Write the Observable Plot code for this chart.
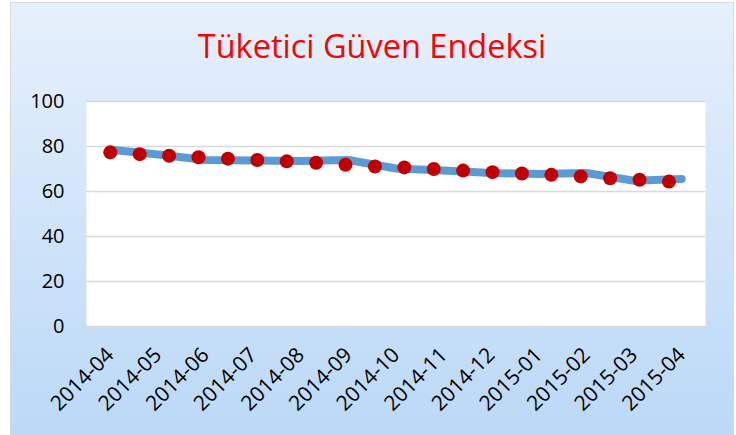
<!DOCTYPE html>
<html>
<head>
<meta charset="utf-8">
<script src="https://cdn.jsdelivr.net/npm/d3@7"></script>
<script src="https://cdn.jsdelivr.net/npm/@observablehq/plot@0.6"></script>
<style>
  html, body { margin: 0; padding: 0; background: #fff; width: 736px; height: 435px; overflow: hidden; }
  #frame {
    position: absolute; left: 10px; top: 2px; width: 722px; height: 445px;
    border: 1px solid #d9d9d9;
    background: linear-gradient(to bottom, #e6f0fc 0%, #bad8f7 100%);
    overflow: hidden;
  }
  #title {
    position: absolute; left: 0; top: 27px; width: 722px; text-align: center;
    font-family: "Open Sans", sans-serif; font-size: 32.5px; line-height: 32px;
    color: #ff0000; white-space: nowrap;
  }
  #chart { position: absolute; left: 0; top: 80px; }
</style>
</head>
<body>
<div id="frame">
  <div id="title">Tüketici Güven Endeksi</div>
  <div id="chart"></div>
</div>
<script>
const months = ["2014-04","2014-05","2014-06","2014-07","2014-08","2014-09","2014-10","2014-11","2014-12","2015-01","2015-02","2015-03","2015-04"];
const lineValues = [78.6, 76.4, 74.0, 73.8, 73.6, 74.0, 70.2, 69.3, 68.2, 67.8, 68.2, 64.8, 65.6];
const dotValues = [77.4, 76.6, 75.9, 75.2, 74.6, 74.0, 73.4, 72.8, 71.9, 71.1, 70.7, 70.0, 69.3, 68.6, 68.0, 67.4, 66.7, 65.9, 65.2, 64.4];
const yTicks = [0, 20, 40, 60, 80, 100];
const dotStep = 0.6175; // dot spacing in month units

const lineData = lineValues.map((v, i) => ({x: i, v}));
const dotData = dotValues.map((v, i) => ({x: i * dotStep, v}));

const chart = Plot.plot({
  width: 722,
  height: 353,
  marginLeft: 75,
  marginRight: 28,
  marginTop: 18,
  marginBottom: 110,
  style: {background: "transparent", fontFamily: "'Open Sans', sans-serif", fontSize: "20px", color: "#000", overflow: "visible"},
  x: {type: "linear", domain: [-0.5, months.length - 0.5], label: null},
  y: {domain: [0, 100], label: null},
  marks: [
    Plot.frame({fill: "white", stroke: null}),
    Plot.gridY(yTicks, {stroke: "#d9d9d9", strokeOpacity: 1, strokeWidth: 1.5}),
    Plot.axisY(yTicks, {tickSize: 0, tickPadding: 22, fontSize: 20, label: null}),
    Plot.axisX(months.map((m, i) => i), {tickFormat: i => months[i], tickRotate: -45, tickSize: 0, tickPadding: 25, fontSize: 21, label: null}),
    Plot.line(lineData, {x: "x", y: "v", stroke: "#5b9bd5", strokeWidth: 8, strokeLinecap: "round", strokeLinejoin: "round"}),
    Plot.dot(dotData, {x: "x", y: "v", r: 7, fill: "#c00000", stroke: null})
  ]
});
document.getElementById("chart").appendChild(chart);
</script>
</body>
</html>
